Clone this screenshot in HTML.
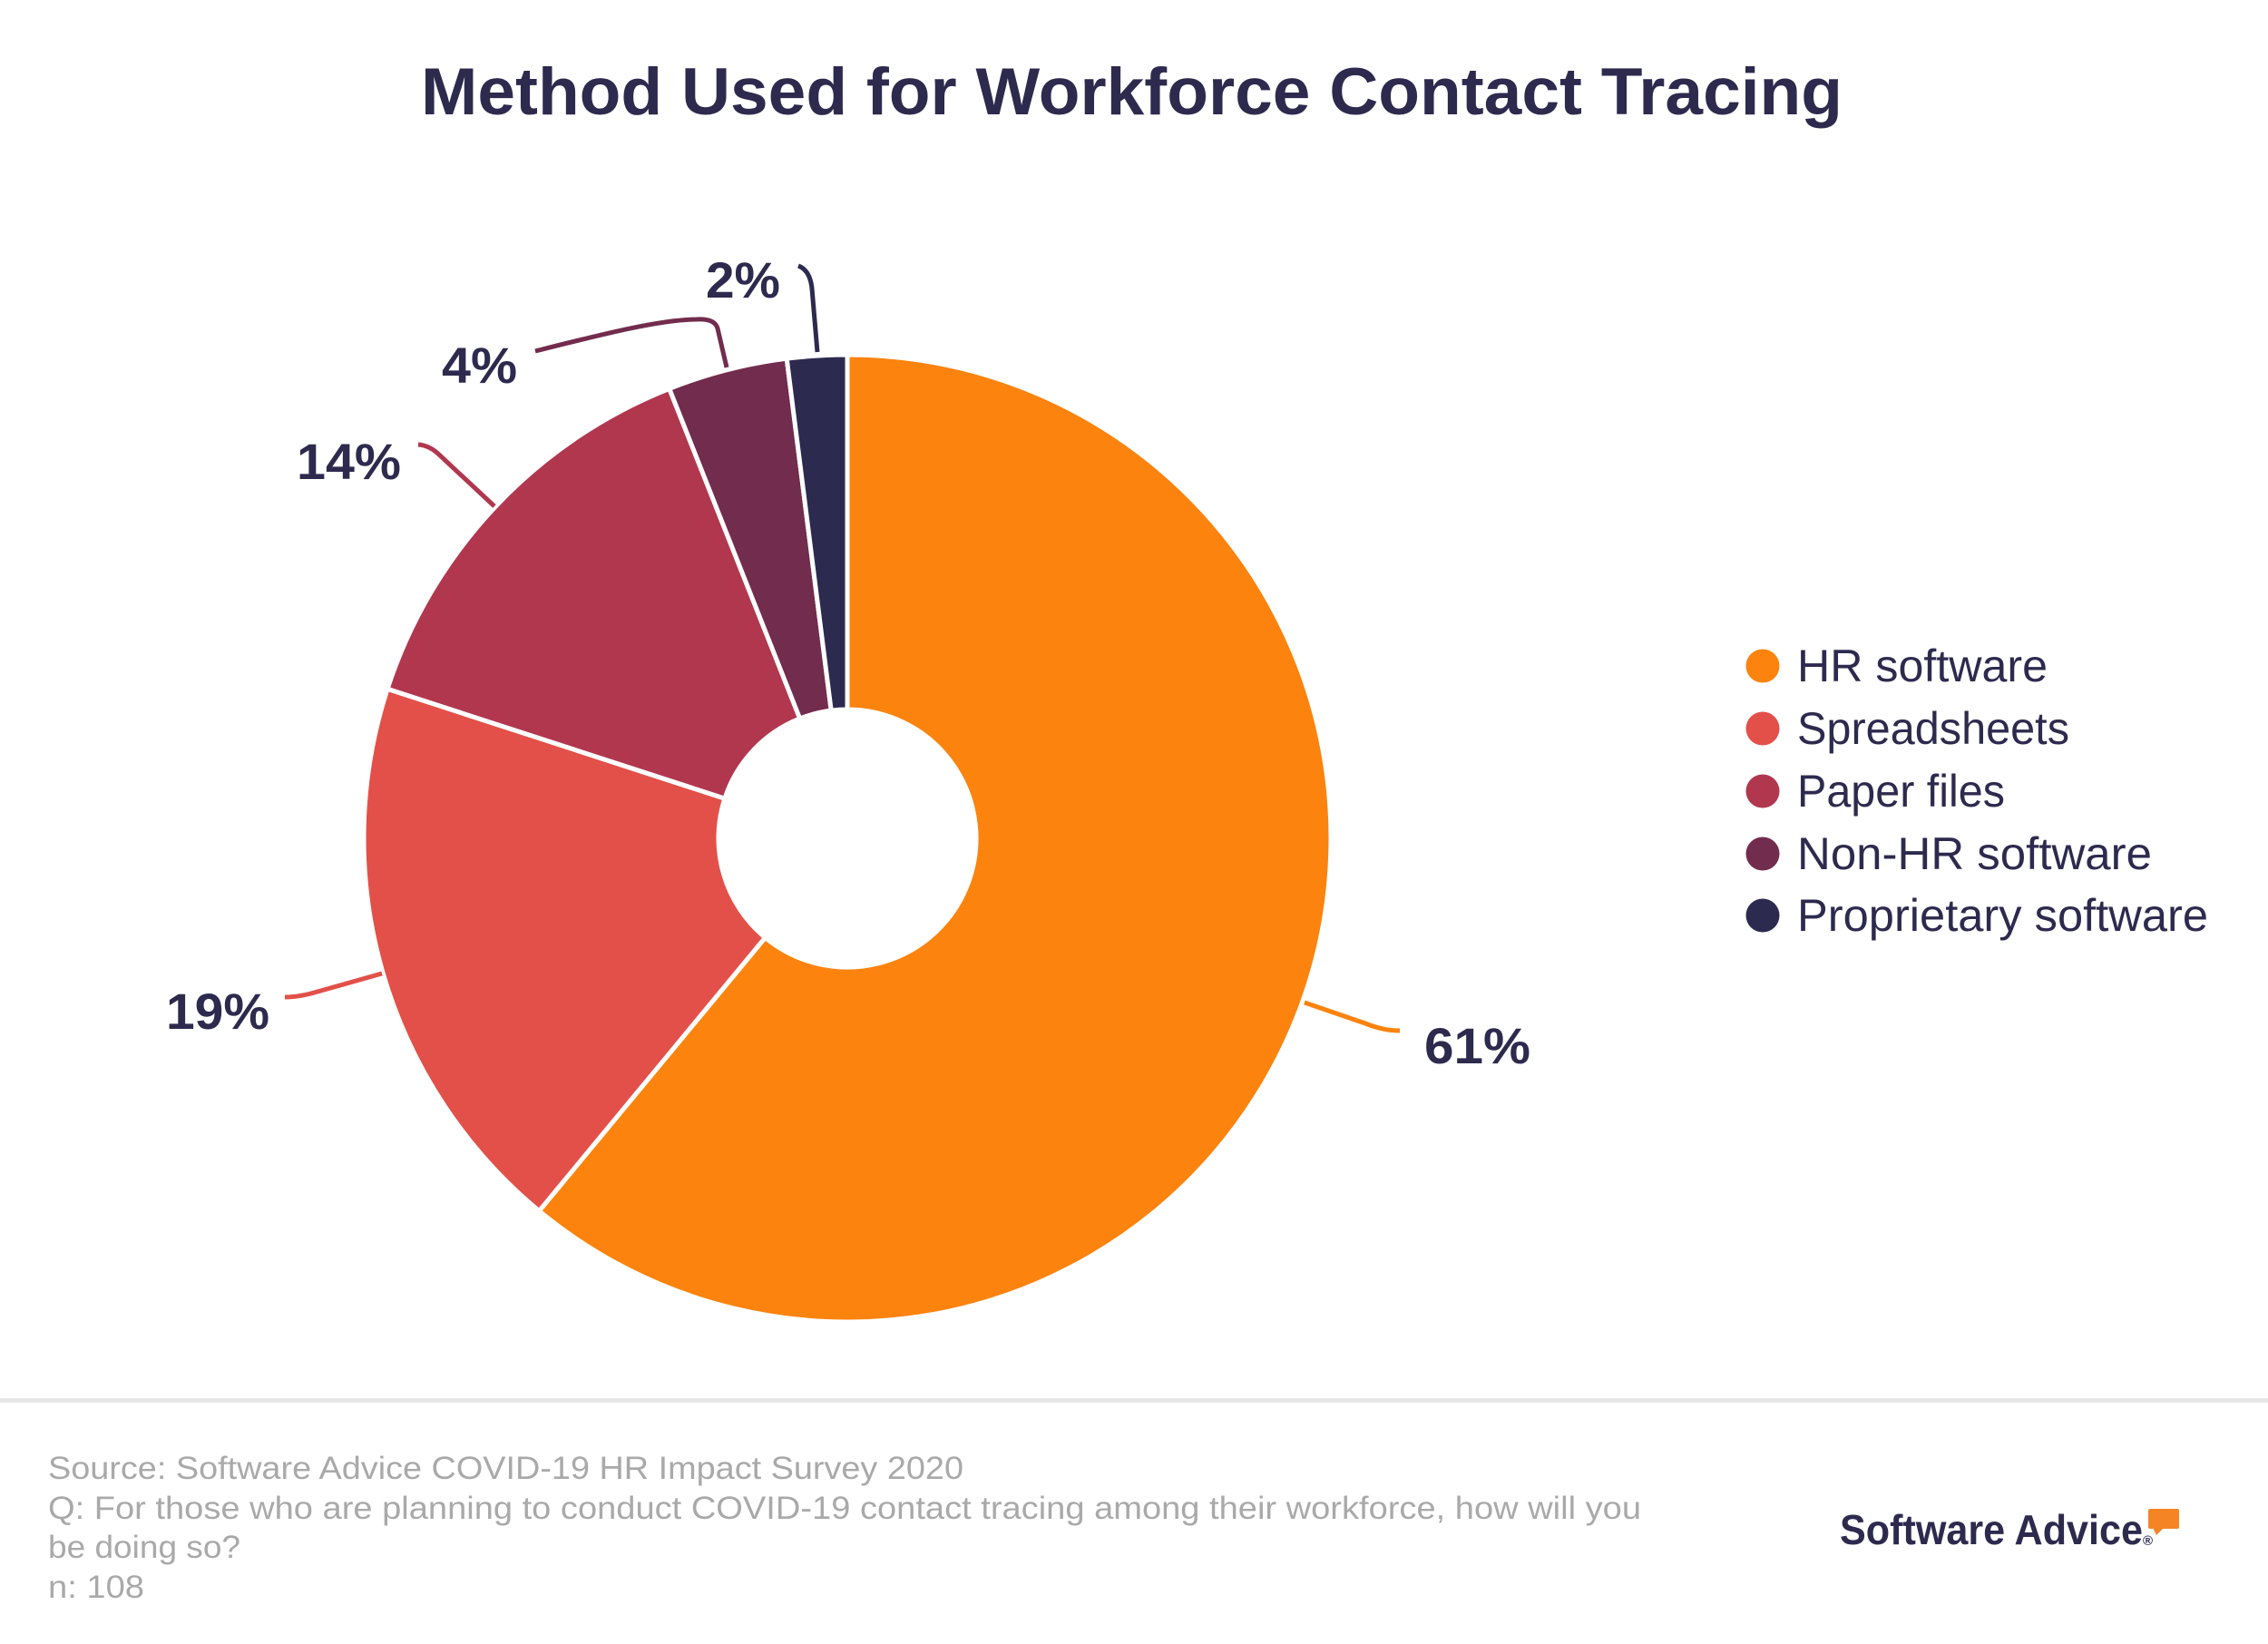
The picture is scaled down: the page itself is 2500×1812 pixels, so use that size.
<!DOCTYPE html>
<html>
<head>
<meta charset="utf-8">
<style>
  html, body { margin: 0; padding: 0; background: #ffffff; }
  body { width: 2500px; height: 1812px; overflow: hidden; }
  svg { display: block; }
  text { font-family: "Liberation Sans", "DejaVu Sans", sans-serif; }
</style>
</head>
<body>
<svg width="2500" height="1812" viewBox="0 0 2500 1812" xmlns="http://www.w3.org/2000/svg">
  <rect x="0" y="0" width="2500" height="1812" fill="#ffffff"/>

  <!-- Title -->
  <text x="464" y="126" font-size="73" font-weight="bold" fill="#2D2A4E" textLength="1567" lengthAdjust="spacingAndGlyphs">Method Used for Workforce Contact Tracing</text>

  <!-- Donut slices -->
  <g stroke="#ffffff" stroke-width="5" stroke-linejoin="miter">
    <path d="M 934 391 A 533 533 0 1 1 594.3 1334.7 L 843.5 1033.4 A 142 142 0 1 0 934 782 Z" fill="#FC830D"/>
    <path d="M 594.3 1334.7 A 533 533 0 0 1 427.1 759.3 L 798.9 880.1 A 142 142 0 0 0 843.5 1033.4 Z" fill="#E35049"/>
    <path d="M 427.1 759.3 A 533 533 0 0 1 737.8 428.4 L 881.7 792.0 A 142 142 0 0 0 798.9 880.1 Z" fill="#B1374F"/>
    <path d="M 737.8 428.4 A 533 533 0 0 1 867.2 395.2 L 916.2 783.1 A 142 142 0 0 0 881.7 792.0 Z" fill="#722C4D"/>
    <path d="M 867.2 395.2 A 533 533 0 0 1 934 391 L 934 782 A 142 142 0 0 0 916.2 783.1 Z" fill="#2C2A4E"/>
  </g>

  <!-- Leader lines -->
  <g fill="none" stroke-width="5" stroke-linecap="butt">
    <path d="M 1438 1105 L 1505 1128 Q 1525 1136 1543 1136" stroke="#FC830D"/>
    <path d="M 421 1073 L 350 1093 Q 330 1099 314 1099" stroke="#E35049"/>
    <path d="M 545 558 L 485 502 Q 474 491 461 490" stroke="#B1374F"/>
    <path d="M 801 405 L 791 362 Q 788 351 768 352 C 725 352 650 372 590 387" stroke="#722C4D"/>
    <path d="M 901 388 L 895 318 Q 893 298 880 293" stroke="#2C2A4E"/>
  </g>

  <!-- Percent labels -->
  <g font-size="56" font-weight="bold" fill="#2D2A4E">
    <text x="778" y="328" textLength="82" lengthAdjust="spacingAndGlyphs">2%</text>
    <text x="487" y="422" textLength="83" lengthAdjust="spacingAndGlyphs">4%</text>
    <text x="327" y="528" textLength="115" lengthAdjust="spacingAndGlyphs">14%</text>
    <text x="183" y="1134" textLength="114" lengthAdjust="spacingAndGlyphs">19%</text>
    <text x="1570" y="1172" textLength="117" lengthAdjust="spacingAndGlyphs">61%</text>
  </g>

  <!-- Legend -->
  <g>
    <circle cx="1943" cy="734" r="18.5" fill="#FC830D"/>
    <circle cx="1943" cy="803" r="18.5" fill="#E35049"/>
    <circle cx="1943" cy="872" r="18.5" fill="#B1374F"/>
    <circle cx="1943" cy="941" r="18.5" fill="#722C4D"/>
    <circle cx="1943" cy="1009" r="18.5" fill="#2C2A4E"/>
  </g>
  <g font-size="50" fill="#2D2A4E">
    <text x="1981" y="751" textLength="276" lengthAdjust="spacingAndGlyphs">HR software</text>
    <text x="1981" y="820" textLength="300" lengthAdjust="spacingAndGlyphs">Spreadsheets</text>
    <text x="1981" y="889" textLength="229" lengthAdjust="spacingAndGlyphs">Paper files</text>
    <text x="1981" y="958" textLength="391" lengthAdjust="spacingAndGlyphs">Non-HR software</text>
    <text x="1981" y="1026" textLength="453" lengthAdjust="spacingAndGlyphs">Proprietary software</text>
  </g>

  <!-- Separator -->
  <rect x="0" y="1541" width="2500" height="5" fill="#E6E6E6"/>

  <!-- Footer -->
  <g font-size="35" fill="#A9A9A9">
    <text x="53" y="1630" textLength="1009" lengthAdjust="spacingAndGlyphs">Source: Software Advice COVID-19 HR Impact Survey 2020</text>
    <text x="53" y="1674" textLength="1756" lengthAdjust="spacingAndGlyphs">Q: For those who are planning to conduct COVID-19 contact tracing among their workforce, how will you</text>
    <text x="53" y="1717" textLength="212" lengthAdjust="spacingAndGlyphs">be doing so?</text>
    <text x="53" y="1761" textLength="106" lengthAdjust="spacingAndGlyphs">n: 108</text>
  </g>

  <!-- Logo -->
  <text x="2028" y="1702" font-size="46" font-weight="bold" fill="#2D2A4E" textLength="334" lengthAdjust="spacingAndGlyphs">Software Advice</text>
  <text x="2362" y="1703" font-size="15" font-weight="bold" fill="#2D2A4E">®</text>
  <rect x="2368" y="1663" width="34" height="22" rx="2" fill="#F58524"/>
  <path d="M 2373 1684 L 2385 1684 L 2377 1692 Z" fill="#F58524"/>
</svg>
</body>
</html>
